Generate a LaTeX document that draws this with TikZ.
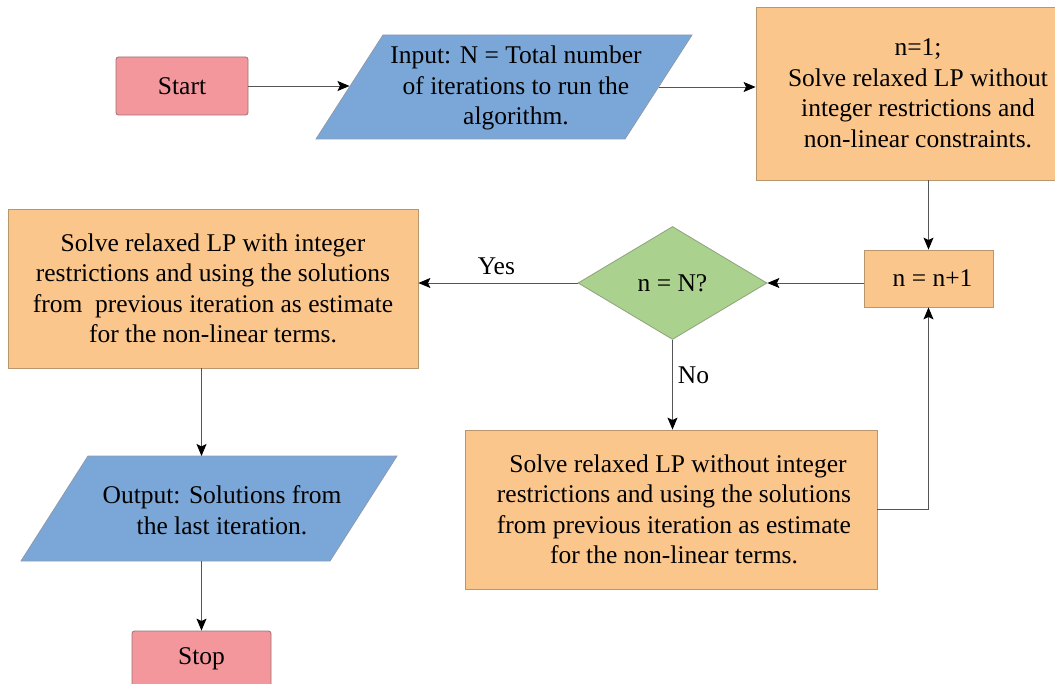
\documentclass[tikz,border=0pt]{standalone}
\usepackage{fontspec}
\setmainfont{Liberation Serif}
\usetikzlibrary{shapes.geometric,arrows.meta,calc}
\definecolor{termfill}{HTML}{F4979C}
\definecolor{termline}{HTML}{9A7072}
\definecolor{iofill}{HTML}{7BA7D8}
\definecolor{ioline}{HTML}{8C9AAE}
\definecolor{procfill}{HTML}{FBC68C}
\definecolor{procline}{HTML}{B8966E}
\definecolor{decfill}{HTML}{AAD18D}
\definecolor{decline}{HTML}{8FA27E}
\definecolor{wire}{HTML}{555555}
\begin{document}
\begin{tikzpicture}[x=1pt,y=-1pt,
  every node/.style={font=\rmfamily\fontsize{25.5}{30.5}\selectfont, text=black},
  terminal/.style={rectangle, rounded corners=2.5pt, draw=termline, fill=termfill, line width=0.8pt, inner sep=0pt},
  process/.style={rectangle, draw=procline, fill=procfill, line width=0.8pt, inner sep=0pt, align=center},
  iobox/.style={draw=ioline, fill=iofill, line width=0.8pt},
  iotext/.style={align=center, inner sep=0pt},
  decision/.style={diamond, draw=decline, fill=decfill, line width=0.8pt, inner sep=0pt},
  flow/.style={draw=wire, line width=0.9pt, -{Stealth[length=12pt,width=10pt,inset=2.5pt,color=black]}},
  edgelabel/.style={inner sep=0pt}]
\useasboundingbox (0,0) rectangle (1055,684);

% terminals
\node[terminal, minimum width=132pt, minimum height=58pt] (start) at (182,86) {Start};
\node[terminal, minimum width=139pt, minimum height=56pt] (stop) at (201.5,659) {Stop};

% input parallelogram
\filldraw[iobox] (383,35) coordinate (inTL) -- (692,35) coordinate (inTR)
  -- (625,139) coordinate (inBR) -- (316,139) coordinate (inBL) -- cycle;
\coordinate (inL) at ($(inTL)!0.5!(inBL)$);
\coordinate (inR) at ($(inTR)!0.5!(inBR)$);
\node[iotext] (inp) at (516,88) {Input: N = Total number\\of iterations to run the\\algorithm.};

% output parallelogram
\filldraw[iobox] (88,456) coordinate (outTL) -- (397,456) coordinate (outTR)
  -- (330,561) coordinate (outBR) -- (21,561) coordinate (outBL) -- cycle;
\node[iotext] (outp) at (222,510) {Output: Solutions from\\the last iteration.};

% process boxes
\node[process, minimum width=324pt, minimum height=173pt] (init) at (918,93.5)
  {n=1;\\ Solve relaxed LP without\\integer restrictions and\\ non-linear constraints.};
\node[process, minimum width=129pt, minimum height=57pt] (incr) at (928.5,278.5) {\hspace{8pt}n = n+1};
\node[decision, minimum width=189pt, minimum height=113pt] (check) at (672.5,283) {n = N?};
\node[process, minimum width=410pt, minimum height=159pt] (final) at (213,288.5)
  {Solve relaxed LP with integer\\restrictions and using the solutions\\from\ \ previous iteration as estimate\\for the non-linear terms.};
\node[process, minimum width=412pt, minimum height=159pt] (relax) at (671,509.5)
  {\hspace{14pt}Solve relaxed LP without integer\\ \hspace{6pt}restrictions and using the solutions\\ \hspace{6pt}from previous iteration as estimate\\ \hspace{6pt}for the non-linear terms.};

% connectors
\draw[flow] (start.east) -- (start.east -| inL);
\draw[flow] (inR) -- (inR -| init.west);
\draw[flow] (incr.north |- init.south) -- (incr.north);
\draw[flow] (check.east -| incr.west) -- (check.east);
\draw[flow] (check.west) -- node[edgelabel, above=8pt, pos=0.51] (yes) {Yes} (check.west -| final.east);
\draw[flow] (check.south) -- node[edgelabel, right=5pt, pos=0.39] (no) {No} (check.south |- relax.north);
\draw[flow] (relax.east) -| (incr.south);
\draw[flow] (stop.north |- final.south) -- (stop.north |- outTL);
\draw[flow] (stop.north |- outBL) -- (stop.north);
\end{tikzpicture}
\end{document}
